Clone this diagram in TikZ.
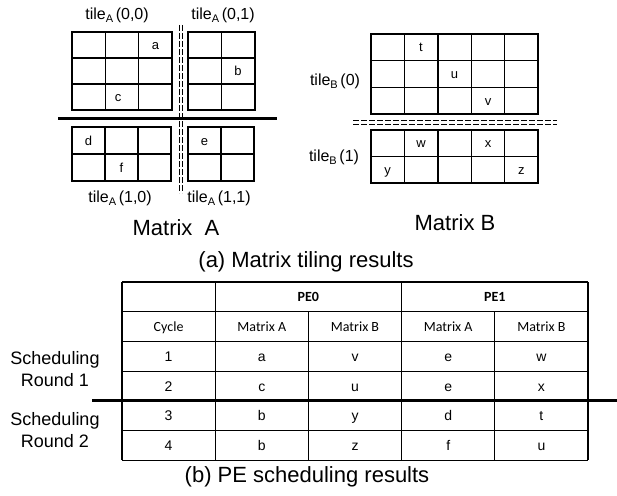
\documentclass[tikz,border=0pt]{standalone}
\usepackage{fontspec}
\setmainfont{Liberation Sans}
\newfontfamily\carl{Carlito}
\newcommand\cellgrid[6]{%
  \draw[gridline] (#1,#2) rectangle (#3,#4);
  \foreach \i in {1,...,#5}{\draw[gridline] ({#1+(#3-#1)*\i/#5},#2) -- ({#1+(#3-#1)*\i/#5},#4);}
  \foreach \j in {1,...,#6}{\draw[gridline] (#1,{#2+(#4-#2)*\j/#6}) -- (#3,{#2+(#4-#2)*\j/#6});}
}
\newcommand\tl[2]{tile\raisebox{-0.35ex}{\fontsize{11}{11}\selectfont #1}\,(#2)}
\tikzset{
  gridline/.style={line width=1.4pt, line cap=rect},
  cellt/.style={font=\fontsize{13}{13}\selectfont, inner sep=0pt, anchor=base, yshift=-4.7pt},
  tlab/.style={font=\fontsize{16}{16}\selectfont, inner sep=0pt},
  big/.style={font=\fontsize{22}{22}\selectfont, inner sep=0pt},
  side/.style={font=\fontsize{18}{21.5}\selectfont, inner sep=0pt, align=center},
  dd/.style={line width=1pt, dash pattern=on 6pt off 2pt},
  thick3/.style={line width=3pt},
  tabline/.style={line width=1.1pt},
  hd/.style={font=\carl\fontsize{14}{14}\selectfont, inner sep=0pt, anchor=base, yshift=-4.6pt},
  hdb/.style={font=\carl\bfseries\fontsize{14}{14}\selectfont, inner sep=0pt, anchor=base, yshift=-4.6pt},
  val/.style={font=\fontsize{14}{14}\selectfont, inner sep=0pt, anchor=base, yshift=-5pt},
}
\begin{document}
\begin{tikzpicture}[x=1pt,y=-1pt]
\useasboundingbox (0,0) rectangle (617,495);
% Matrix A grids
\cellgrid{72}{32}{172}{110}{3}{3}
\cellgrid{188}{32}{255}{110}{2}{3}
\cellgrid{72}{127}{171}{181}{3}{2}
\cellgrid{188}{127}{254}{181}{2}{2}
% separators A
\draw[dd] (179,25) -- (179,193);
\draw[dd] (182.5,25) -- (182.5,193);
\draw[thick3] (58,118) -- (277,118);
% cell letters A
\node[cellt] (la) at (155.5,45) {a};
\node[cellt] (lc) at (118,97) {c};
\node[cellt] (lb) at (238,71) {b};
\node[cellt] (ld) at (88.5,140.5) {d};
\node[cellt] (lf) at (121.5,167.5) {f};
\node[cellt] (le) at (204.5,140.5) {e};
% tile labels A
\node[tlab] (t00) at (117,15) {\tl{A}{0,0}};
\node[tlab] (t01) at (223,15) {\tl{A}{0,1}};
\node[tlab] (t10) at (120,198) {\tl{A}{1,0}};
\node[tlab] (t11) at (219,198) {\tl{A}{1,1}};
\node[big] (mA) at (176,228) {Matrix\ \ A};
% Matrix B grids
\cellgrid{371}{34}{538}{114}{5}{3}
\cellgrid{371}{130}{538}{183}{5}{2}
\draw[dd] (353,120.5) -- (557,120.5);
\draw[dd] (353,124) -- (557,124);
\node[cellt] (lt) at (421,47) {t};
\node[cellt] (lu) at (454.5,74) {u};
\node[cellt] (lv) at (488,100.7) {v};
\node[cellt] (lw) at (421,143) {w};
\node[cellt] (lx) at (488,143) {x};
\node[cellt] (ly) at (387.7,170) {y};
\node[cellt] (lz) at (521.3,170) {z};
\node[tlab] (tb0) at (335,81) {\tl{B}{0}};
\node[tlab] (tb1) at (334,157) {\tl{B}{1}};
\node[big] (mB) at (455,223) {Matrix B};
\node[big] (capa) at (306,262) {(a) Matrix tiling results};
% Table
\foreach \yy in {282,311.7,341.4,371.1,430.5,460.2}{\draw[tabline] (122,\yy) -- (588,\yy);}
\foreach \xx in {122,215.2,401.6,588}{\draw[tabline] (\xx,282) -- (\xx,460.2);}
\foreach \xx in {308.4,494.8}{\draw[tabline] (\xx,311.7) -- (\xx,460.2);}
\draw[thick3] (92,400.8) -- (617,400.8);
\node[hdb] (pe0) at (308.4,297) {PE0};
\node[hdb] (pe1) at (494.8,297) {PE1};
\node[hd] (hc) at (168.6,326.5) {Cycle};
\node[hd] (h1) at (261.8,326.5) {Matrix A};
\node[hd] (h2) at (355,326.5) {Matrix B};
\node[hd] (h3) at (448.2,326.5) {Matrix A};
\node[hd] (h4) at (541.4,326.5) {Matrix B};
\foreach \r/\yy/\c/\a/\b/\d/\e in {1/356.2/1/a/v/e/w, 2/386/2/c/u/e/x, 3/415.6/3/b/y/d/t, 4/445.3/4/b/z/f/u}{
  \node[val] (c\r) at (168.6,\yy) {\c};
  \node[val] (a\r) at (261.8,\yy) {\a};
  \node[val] (b\r) at (355,\yy) {\b};
  \node[val] (d\r) at (448.2,\yy) {\d};
  \node[val] (e\r) at (541.4,\yy) {\e};
}
\node[side] (sr1) at (55,369) {Scheduling\\Round 1};
\node[side] (sr2) at (55,430) {Scheduling\\Round 2};
\node[big] (capb) at (307,477) {(b) PE scheduling results};
\end{tikzpicture}
\end{document}
